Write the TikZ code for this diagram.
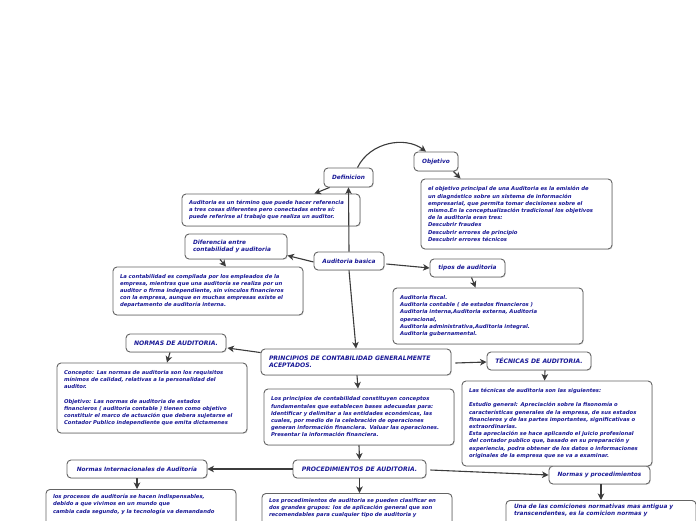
\documentclass[tikz,border=0pt]{standalone}
\usepackage{fontspec}
\setmainfont{DejaVu Sans}
\usetikzlibrary{arrows.meta,shadows,calc}
\definecolor{txtc}{RGB}{24,24,150}
\definecolor{bordc}{RGB}{100,100,100}
\definecolor{linkc}{RGB}{60,60,60}
\tikzset{
  basebox/.style={draw=bordc, line width=0.9pt, rounded corners=4pt, fill=white, text=txtc,
    drop shadow={shadow xshift=0.8pt, shadow yshift=-0.8pt, opacity=0.25}},
  lbl/.style={basebox, font=\fontsize{5.8}{6.9}\selectfont\bfseries\itshape, align=center, inner sep=0pt},
  head/.style={basebox, font=\fontsize{6.1}{7.2}\selectfont\bfseries\itshape, inner sep=0pt},
  tbox/.style={basebox, font=\fontsize{5.3}{7.2}\selectfont\bfseries\itshape, align=left, inner xsep=7pt, inner ysep=0pt},
  link/.style={draw=linkc, line width=1.1pt, -{Stealth[length=6.5pt,width=6.5pt,inset=1.8pt]}},
}
\begin{document}
\begin{tikzpicture}[x=1pt,y=-1pt]
\useasboundingbox (0,0) rectangle (696,520);

% label nodes
\node[lbl, minimum width=49, minimum height=19] (def) at (348.5,177.5) {Definicion};
\node[lbl, minimum width=44, minimum height=19] (obj) at (436,161.5) {Objetivo};
\node[lbl, align=left, inner xsep=8pt, text width=86, minimum height=25] (dif) at (236,246.5) {Diferencia entre\\contabilidad y auditoria};
\node[lbl, minimum width=70, minimum height=18] (ab) at (349,261) {Auditoria basica};
\node[lbl, minimum width=75, minimum height=18] (tipos) at (467.5,268) {tipos de auditoria};
\node[head, minimum width=100, minimum height=18] (normas) at (176,343) {NORMAS DE AUDITORIA.};
\node[head, align=left, inner xsep=8pt, text width=174, minimum height=26] (princ) at (356,362) {PRINCIPIOS DE CONTABILIDAD GENERALMENTE\\ACEPTADOS.};
\node[head, minimum width=104, minimum height=18] (tec) at (539,361) {TÉCNICAS DE AUDITORIA.};
\node[lbl, minimum width=140, minimum height=18] (nia) at (137,469) {Normas Internacionales de Auditoría};
\node[head, minimum width=133, minimum height=18] (proc) at (359.5,469) {PROCEDIMIENTOS DE AUDITORIA.};
\node[lbl, minimum width=101, minimum height=18] (nyp) at (599.5,475) {Normas y procedimientos};

% text boxes
\node[tbox, minimum height=70, text width=177] (objtxt) at (516.5,214) {el objetivo principal de una Auditoria es la emisión de\\un diagnóstico sobre un sistema de información\\empresarial, que permita tomar decisiones sobre el\\mismo.En la conceptualización tradicional los objetivos\\de la auditoria eran tres:\\Descubrir fraudes\\Descubrir errores de principio\\Descubrir errores técnicos};
\node[tbox, minimum height=32, text width=164] (audtxt) at (271,210) {Auditoria es un término que puede hacer referencia\\a tres cosas diferentes pero conectadas entre sí:\\puede referirse al trabajo que realiza un auditor.};
\node[tbox, minimum height=48, text width=176] (contab) at (208,291) {La contabilidad es compilada por los empleados de la\\empresa, mientras que una auditoría se realiza por un\\auditor o firma independiente, sin vínculos financieros\\con la empresa, aunque en muchas empresas existe el\\departamento de auditoría interna.};
\node[tbox, minimum height=56, text width=176] (tipostxt) at (488,316) {Auditoria fiscal.\\Auditoria contable ( de estados financieros )\\Auditoria interna,Auditoria externa, Auditoria\\operacional,\\Auditoria administrativa,Auditoria integral.\\Auditoria gubernamental.};
\node[tbox, minimum height=70, text width=176] (normtxt) at (152,398) {Concepto: Las normas de auditoria son los requisitos\\mínimos de calidad, relativas a la personalidad del\\auditor.\\[7.2pt]Objetivo: Las normas de auditoria de estados\\financieros ( auditoria contable ) tienen como objetivo\\constituir el marco de actuación que debera sujetarse el\\Contador Publico independiente que emita dictamenes};
\node[tbox, minimum height=56, text width=176] (princtxt) at (359,417) {Los principios de contabilidad constituyen conceptos\\fundamentales que establecen bases adecuadas para:\\Identificar y delimitar a las entidades económicas, las\\cuales, por medio de la celebración de operaciones\\generan información financiera. Valuar las operaciones.\\Presentar la información financiera.};
\node[tbox, minimum height=85, text width=176] (tectxt) at (557,423.5) {Las técnicas de auditoria son las siguientes:\\[6.8pt]Estudio general: Apreciación sobre la fisonomía o\\características generales de la empresa, de sus estados\\financieros y de las partes importantes, significativas o\\extraordinarias.\\Esta apreciación se hace aplicando el juicio profesional\\del contador publico que, basado en su preparación y\\experiencia, podra obtener de los datos o informaciones\\originales de la empresa que se va a examinar.};
\node[tbox, anchor=north, inner ysep=5pt, text depth=30pt, text width=176] (bl) at (141,489) {los procesos de auditoría se hacen indispensables,\\debido a que vivimos en un mundo que\\cambia cada segundo, y la tecnología va demandando};
\node[tbox, anchor=north, inner ysep=5pt, text depth=30pt, text width=176] (bm) at (357,493) {Los procedimientos de auditoria se pueden clasificar en\\dos grandes grupos: los de aplicación general que son\\recomendables para cualquier tipo de auditoria y};
\node[tbox, anchor=north, inner ysep=4pt, inner xsep=8pt, text depth=30pt, text width=174, font=\fontsize{5.8}{6.8}\selectfont\bfseries\itshape] (br) at (601,500) {Una de las comiciones normativas mas antigua y\\transcendentes, es la comicion normas y};

% helper coordinates for arrow ends
\coordinate (nypout) at ($(nyp.south)+(1.5,0)$);
\coordinate (brin) at (nypout |- br.north);

% connectors
\draw[link] (ab.north) -- (def.south);
\draw[link] ($(def.south west)+(6,0)$) -- ($(audtxt.north east)+(-46,0)$);
\draw[link] ($(def.north)+(9,0)$) .. controls (370,142) and (405,136) .. ($(obj.north)+(-10,0)$);
\draw[link] ($(obj.south east)+(-5,0)$) -- ($(objtxt.north west)+(40,0)$);
\draw[link] ($(ab.west)+(0,1)$) -- ($(dif.east)+(0,9)$);
\draw[link] ($(ab.east)+(2,3)$) -- (tipos.west);
\draw[link] ($(dif.south)+(-16,0)$) -- ($(contab.north)+(18,0)$);
\draw[link] ($(tipos.south)+(4,0)$) -- ($(tipostxt.north west)+(83,0)$);
\draw[link] (ab.south) -- (princ.north);
\draw[link] ($(princ.north west)+(0,4)$) -- ($(normas.east)+(1,5)$);
\draw[link] ($(normas.south)+(-6,0)$) -- ($(normtxt.north)+(15,0)$);
\draw[link] ($(princ.east)+(4,1)$) -- ($(tec.west)+(0,1)$);
\draw[link] ($(tec.south)+(6,0)$) -- ($(tectxt.north west)+(83,0)$);
\draw[link] ($(princ.south)+(1,0)$) -- ($(princtxt.north)+(-1,0)$);
\draw[link] (princtxt.south) -- (proc.north);
\draw[link] (proc.west) -- (nia.east);
\draw[link] ($(proc.east)+(4,1)$) -- (nyp.west);
\draw[link] (nia.south) -- (nia.south |- bl.north);
\draw[link] (proc.south) -- (proc.south |- bm.north);
\draw[link] (nypout) -- (brin);
\end{tikzpicture}
\end{document}
